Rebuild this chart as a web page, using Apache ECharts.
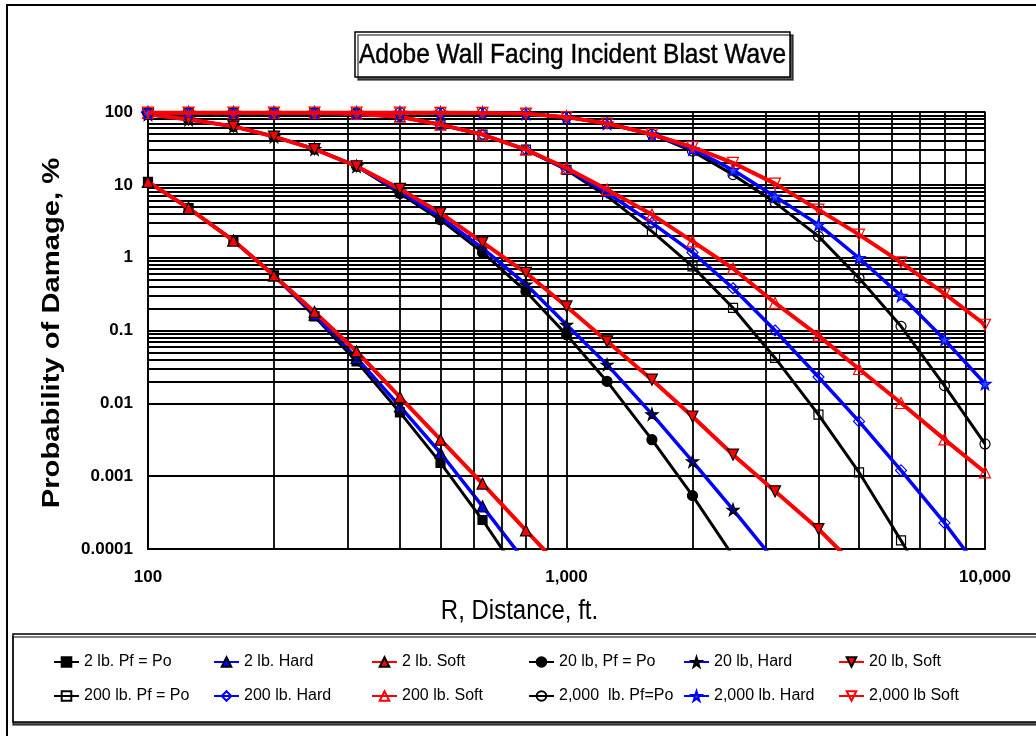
<!DOCTYPE html>
<html>
<head>
<meta charset="utf-8">
<script src="https://cdn.jsdelivr.net/npm/echarts@6/dist/echarts.min.js"></script>
<style>
html,body{margin:0;padding:0;background:#fff;}
#chart{width:1036px;height:736px;}
</style>
</head>
<body>
<div id="chart"></div>
<script>
// ---- Data ----
const chartTitle = 'Adobe Wall Facing Incident Blast Wave';
const xAxisTitle = 'R, Distance, ft.';
const yAxisTitle = 'Probability of Damage, %';
const distances = [100,125,160,200,250,315,400,500,630,800,1000,1250,1600,2000,2500,3150,4000,5000,6300,8000,10000];

const lb2PfPo  = [11, 4.8, 1.72, 0.57, 0.156, 0.0377, 0.0075, 0.00152, 0.00025, 0.000033];
const lb2Hard  = [11, 4.8, 1.72, 0.57, 0.165, 0.0419, 0.0091, 0.00208, 0.000385, 0.000065];
const lb2Soft  = [11, 4.8, 1.72, 0.57, 0.18, 0.0516, 0.0122, 0.00317, 0.00079, 0.00018, 0.000046];

const lb20PfPo = [93, 79, 63.5, 46, 31, 18, 7.6, 3.3, 1.18, 0.344, 0.0875, 0.02, 0.00317, 0.00054, 0.00008];
const lb20Hard = [93, 79, 63.5, 46, 31, 18, 8.1, 3.6, 1.35, 0.43, 0.12, 0.034, 0.0071, 0.0016, 0.000347, 0.000068];
const lb20Soft = [93, 79, 63.5, 46, 31, 18, 8.8, 4.1, 1.62, 0.62, 0.214, 0.071, 0.0211, 0.0066, 0.00197, 0.00062, 0.000188, 0.000052];

const lb200PfPo = [97, 97, 97, 97, 97, 94, 86, 67, 49, 30.5, 16, 7.0, 2.3, 0.76, 0.204, 0.042, 0.007, 0.00113, 0.000131, 0.000013];
const lb200Hard = [97, 97, 97, 97, 97, 94, 86, 67, 49, 30.5, 16.5, 7.8, 3.0, 1.18, 0.38, 0.10, 0.023, 0.00565, 0.0012, 0.000228, 0.000042];
const lb200Soft = [97, 97, 97, 97, 97, 94, 86, 67, 49, 30.5, 17, 8.6, 3.9, 1.67, 0.71, 0.239, 0.085, 0.0296, 0.0101, 0.0032, 0.00113];

const lb2000PfPo = [98, 98, 98, 98, 98, 98, 98, 97.5, 97, 95, 85, 69.5, 49.5, 29, 13.8, 5.7, 1.96, 0.526, 0.114, 0.0175, 0.00277];
const lb2000Hard = [98, 98, 98, 98, 98, 98, 98, 97.5, 97, 95, 85, 69.5, 49.5, 31, 16, 6.9, 2.84, 0.99, 0.30, 0.075, 0.0186];
const lb2000Soft = [98, 98, 98, 98, 98, 98, 98, 97.5, 97, 95, 85, 69.5, 49.5, 33, 20, 10.4, 4.56, 2.07, 0.86, 0.32, 0.12];

const seriesNames = [
  '2 lb. Pf = Po', '2 lb. Hard', '2 lb. Soft',
  '20 lb, Pf = Po', '20 lb, Hard', '20 lb, Soft',
  '200 lb. Pf = Po', '200 lb. Hard', '200 lb. Soft',
  '2,000  lb. Pf=Po', '2,000 lb. Hard', '2,000 lb Soft'
];
const seriesValues = [lb2PfPo, lb2Hard, lb2Soft, lb20PfPo, lb20Hard, lb20Soft,
  lb200PfPo, lb200Hard, lb200Soft, lb2000PfPo, lb2000Hard, lb2000Soft];

const gridMultipliers = [2,3,4,5,6,7,8,9];
const xDecades = [100, 1000];
const yDecades = [0.0001, 0.001, 0.01, 0.1, 1, 10];

// ---- Styles ----
const FONT = 'Liberation Sans, Arial, Helvetica, sans-serif';
const BLACK = '#000000', BLUE = '#0000ff', RED = '#ff0000';
const STAR = 'path://M50,0 L61,35 L98,35 L68,57 L79,91 L50,70 L21,91 L32,57 L2,35 L39,35 Z';
const DOWN = 'path://M0,0 L10,0 L5,9 Z';
const styles = [
  {c: BLACK, w: 3, sym: 'rect', size: 9, fill: BLACK, border: BLACK},
  {c: BLUE, w: 3.5, sym: 'triangle', size: 11, fill: BLUE, border: BLACK},
  {c: RED, w: 4, sym: 'triangle', size: 11, fill: RED, border: BLACK},
  {c: BLACK, w: 3, sym: 'circle', size: 10, fill: BLACK, border: BLACK},
  {c: BLUE, w: 3.5, sym: STAR, size: 12, fill: '#000090', border: BLACK},
  {c: RED, w: 4, sym: DOWN, size: 11, fill: RED, border: BLACK},
  {c: BLACK, w: 3, sym: 'rect', size: 9, fill: 'rgba(255,255,255,0)', border: BLACK},
  {c: BLUE, w: 3.5, sym: 'diamond', size: 11, fill: 'rgba(255,255,255,0)', border: BLUE},
  {c: RED, w: 4, sym: 'triangle', size: 11, fill: 'rgba(255,255,255,0)', border: RED},
  {c: BLACK, w: 3, sym: 'circle', size: 10, fill: 'rgba(255,255,255,0)', border: BLACK},
  {c: BLUE, w: 3.5, sym: STAR, size: 12, fill: '#2a4bff', border: BLUE},
  {c: RED, w: 4, sym: DOWN, size: 11, fill: 'rgba(255,255,255,0)', border: RED}
];

function toPairs(vals) {
  const out = [];
  vals.forEach((v, i) => { if (v != null) out.push([distances[i], v]); });
  return out;
}

const gridLineData = [];
xDecades.forEach(d => gridMultipliers.forEach(m => gridLineData.push({xAxis: d * m})));
yDecades.forEach(d => gridMultipliers.forEach(m => gridLineData.push({yAxis: d * m})));

const series = [{
  name: 'grid', type: 'line', data: [], z: 1, silent: true,
  markLine: {
    silent: true, symbol: ['none', 'none'], animation: false,
    label: {show: false},
    lineStyle: {color: '#000', width: 1.8, type: 'solid'},
    emphasis: {disabled: true},
    data: gridLineData
  }
}];
seriesValues.forEach((vals, i) => {
  const s = styles[i];
  series.push({
    name: seriesNames[i], type: 'line', data: toPairs(vals), z: 3 + i,
    symbol: s.sym, symbolSize: s.size, showAllSymbol: true, clip: true,
    lineStyle: {color: s.c, width: s.w},
    itemStyle: {color: s.fill, borderColor: s.border, borderWidth: 1.2},
    emphasis: {disabled: true}
  });
});

const legendCols = [53, 213, 371, 528, 683, 838];
const legends = legendCols.map((left, i) => ({
  left: left, top: 654, orient: 'vertical', itemGap: 18,
  itemWidth: 25, itemHeight: 12, padding: 0, selectedMode: false,
  data: [seriesNames[i], seriesNames[i + 6]],
  textStyle: {fontFamily: FONT, fontSize: 16, color: '#000'}
}));

const chart = echarts.init(document.getElementById('chart'), null, {renderer: 'canvas'});
chart.setOption({
  animation: false,
  backgroundColor: '#fff',
  grid: {left: 148, top: 112, width: 837, height: 437, show: true, borderColor: '#777', borderWidth: 2, backgroundColor: '#fff'},
  xAxis: {
    type: 'log', logBase: 10, min: 100, max: 10000,
    axisLine: {show: true, lineStyle: {color: '#000', width: 2}},
    axisTick: {show: false},
    splitLine: {show: true, lineStyle: {color: '#000', width: 1.8}},
    axisLabel: {
      margin: 20, fontFamily: FONT, fontSize: 17, fontWeight: 'bold', color: '#000',
      formatter: v => Number(Number(v).toPrecision(3)).toLocaleString('en-US')
    }
  },
  yAxis: {
    type: 'log', logBase: 10, min: 0.0001, max: 100, splitNumber: 6,
    axisLine: {show: true, lineStyle: {color: '#000', width: 2}},
    axisTick: {show: false},
    splitLine: {show: true, lineStyle: {color: '#000', width: 1.8}},
    axisLabel: {
      margin: 15, fontFamily: FONT, fontSize: 17, fontWeight: 'bold', color: '#000',
      formatter: v => String(Number(Number(v).toPrecision(3)))
    }
  },
  legend: legends,
  graphic: [
    {type: 'rect', z: 0, shape: {x: 7, y: 5, width: 1100, height: 800},
     style: {fill: 'none', stroke: '#000', lineWidth: 2}, silent: true},
    {type: 'rect', z: 0, shape: {x: 355, y: 32, width: 435, height: 45},
     style: {fill: '#fff', stroke: '#000', lineWidth: 1.5, shadowColor: 'rgba(0,0,0,0.65)', shadowOffsetX: 3, shadowOffsetY: 3, shadowBlur: 0}, silent: true},
    {type: 'text', z: 1, x: 572.5, y: 55, scaleY: 1.14, silent: true,
     style: {text: chartTitle, font: '24.5px ' + FONT, fill: '#000', textAlign: 'center', textVerticalAlign: 'middle', stroke: '#000', lineWidth: 0.4}},
    {type: 'text', z: 1, x: 519.5, y: 611, scaleY: 1.15, silent: true,
     style: {text: xAxisTitle, font: '24px ' + FONT, fill: '#000', textAlign: 'center', textVerticalAlign: 'middle'}},
    {type: 'text', z: 1, x: 53, y: 333, rotation: Math.PI / 2, scaleX: 1.27, silent: true,
     style: {text: yAxisTitle, font: 'bold 23px ' + FONT, fill: '#000', textAlign: 'center', textVerticalAlign: 'middle'}},
    {type: 'rect', z: 0, shape: {x: 13, y: 634, width: 1100, height: 88},
     style: {fill: '#fff', stroke: '#000', lineWidth: 1.5, shadowColor: 'rgba(0,0,0,0.65)', shadowOffsetX: 0, shadowOffsetY: 3, shadowBlur: 0}, silent: true}
  ],
  series: series
});
</script>
</body>
</html>
